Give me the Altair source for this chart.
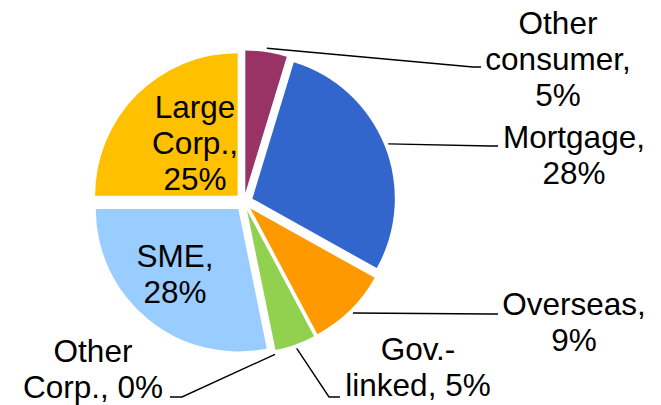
import altair as alt
import pandas as pd
import numpy as np

# ---- data ----
names = ["Other consumer", "Mortgage", "Overseas", "Gov.-linked", "Other Corp.", "SME", "Large Corp."]
values = [4.7, 28.4, 9.1, 4.6, 0.0, 28.2, 25.0]
labels = ["Other\nconsumer,\n5%", "Mortgage,\n28%", "Overseas,\n9%", "Gov.-\nlinked, 5%",
          "Other\nCorp., 0%", "SME,\n28%", "Large\nCorp.,\n25%"]
colors = ["#993366", "#3366CC", "#FF9900", "#92D050", "#A5A5A5", "#99CCFF", "#FFC000"]

# ---- layout (page pixel coordinates) ----
W, H = 645, 397
ORIGIN = 8
CX, CY, R, EXPLODE = 244, 202, 142.5, 9
label_xy = {
    "Other consumer": (558, 34),
    "Mortgage": (574, 148),
    "Overseas": (574, 315),
    "Gov.-linked": (418, 360),
    "Other Corp.": (93, 362),
    "SME": (175, 267),
    "Large Corp.": (195, 118),
}
# elbow and end point of each leader line
leader_xy = {
    "Other consumer": [(473, 67), (481, 67)],
    "Mortgage": [(490, 146), (498, 146)],
    "Overseas": [(490, 314), (498, 314)],
    "Gov.-linked": [(329, 397), (340, 397)],
    "Other Corp.": [(182, 397), (170, 397)],
}

total = float(sum(values))
vals = np.array(values, dtype=float)
end = np.cumsum(vals)
start = end - vals
mid = (start + end) / 2 / total * 2 * np.pi
cx = CX + EXPLODE * np.sin(mid)
cy = CY - EXPLODE * np.cos(mid)

slices = pd.DataFrame({
    "name": names, "value": values, "start": start, "end": end,
    "cx": cx, "cy": cy,
})

rows = []
for i, n in enumerate(names):
    if n in leader_xy:
        sx = cx[i] + (R + 4) * np.sin(mid[i])
        sy = cy[i] - (R + 4) * np.cos(mid[i])
        pts = [(sx, sy)] + leader_xy[n]
        for k, (px, py) in enumerate(pts):
            rows.append({"name": n, "k": k, "px": px, "py": py})
leaders = pd.DataFrame(rows)

texts = pd.DataFrame({
    "name": names, "label": labels,
    "lx": [label_xy[n][0] for n in names],
    "ly": [label_xy[n][1] for n in names],
})

xs = alt.Scale(domain=[ORIGIN, ORIGIN + W], nice=False, zero=False)
ys = alt.Scale(domain=[ORIGIN, ORIGIN + H], nice=False, zero=False, reverse=True)

arcs = alt.Chart(slices).mark_arc(radius=R).encode(
    x=alt.X("cx:Q", scale=xs, axis=None),
    y=alt.Y("cy:Q", scale=ys, axis=None),
    theta=alt.Theta("start:Q", stack=None,
                    scale=alt.Scale(domain=[0, total], range=[0, 2 * np.pi])),
    theta2="end:Q",
    color=alt.Color("name:N", scale=alt.Scale(domain=names, range=colors), legend=None),
)

lines = alt.Chart(leaders).mark_line(color="black", strokeWidth=1.4).encode(
    x=alt.X("px:Q", scale=xs, axis=None),
    y=alt.Y("py:Q", scale=ys, axis=None),
    detail="name:N",
    order="k:Q",
)

text = alt.Chart(texts).mark_text(
    font="Liberation Sans", fontSize=31.5, lineHeight=36, lineBreak="\n",
    align="center", baseline="alphabetic", color="black",
).encode(
    x=alt.X("lx:Q", scale=xs, axis=None),
    y=alt.Y("ly:Q", scale=ys, axis=None),
    text="label:N",
)

chart = alt.layer(arcs, lines, text).properties(
    width=W, height=H, padding=0, autosize="none"
).configure_view(stroke=None)

chart.save("out.html", embed_options={"renderer": "svg", "actions": False})
